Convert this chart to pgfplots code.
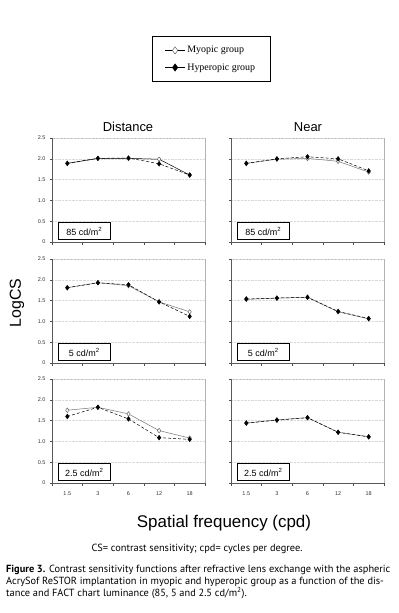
\documentclass[border=0pt]{standalone}
\usepackage{pgfplots}
\pgfplotsset{compat=1.18}
\usepackage{fontspec}
\setmainfont{Liberation Sans}
\newfontfamily\serifleg{Liberation Serif}
\newfontfamily\capfont{PT Sans}
\pgfplotsset{
  panel/.style={
    scale only axis, width=153bp, height=104bp,
    anchor=north west,
    xmin=-0.5, xmax=4.5, ymin=0, ymax=2.5,
    ytick={0,0.5,1,1.5,2,2.5},
    yticklabels={0,0.5,1.0,1.5,2.0,2.5},
    xtick={0,1,2,3,4},
    xticklabels={},
    minor xtick={-0.5,0.5,1.5,2.5,3.5,4.5},
    major x tick style={draw=none},
    minor x tick style={draw=black!70, line width=0.5pt},
    major y tick style={draw=black!70, line width=0.5pt},
    tick align=outside,
    major tick length=2bp, minor tick length=2.5bp,
    axis x line*=bottom, axis y line*=left,
    axis line style={black!65, line width=0.6pt},
    axis background/.style={draw=black!30, line width=0.6pt},
    ymajorgrids, grid style={black!15, densely dotted, line width=0.4pt},
    tick label style={font=\fontsize{5.5}{6}\selectfont, text=black!80},
    yticklabel style={xshift=-1bp},
    clip=false,
  },
  myo/.style={black!55, line width=0.5pt, mark=diamond*, mark options={solid, fill=white, draw=black!70, line width=0.4pt}, mark size=2.3bp},
  hyp/.style={black, densely dashed, line width=0.5pt, mark=diamond*, mark options={solid, fill=black, draw=black}, mark size=2.3bp},
}
\newcommand{\lumbox}[1]{\node[draw=black, line width=0.7pt, fill=white, anchor=south west, minimum width=52bp, minimum height=17bp, inner sep=1bp, font=\fontsize{9}{10}\selectfont] at ([xshift=6bp,yshift=2bp]rel axis cs:0,0) {#1};}
\begin{document}
\begin{tikzpicture}
\path[use as bounding box] (0,0) rectangle (399bp,-613bp);

% ---- top left: Distance 85
\begin{axis}[panel, at={(52bp,-138bp)},
  legend style={at={(1.039,1.76)}, anchor=center, draw=black, line width=0.6pt,
    font=\serifleg\fontsize{10}{11}\selectfont, inner xsep=13bp, inner ysep=8bp, row sep=5bp, cells={anchor=west}},
  legend image code/.code={\draw[mark repeat=2,mark phase=2,#1] plot coordinates {(0bp,0bp) (10bp,0bp) (20bp,0bp)};},
]
\addplot[myo, solid, black, legend image post style={mark size=3.6bp, solid}] coordinates {(0,1.89) (1,2.01) (2,2.01) (3,1.99) (4,1.61)};
\addlegendentry{Myopic group}
\addplot[hyp, legend image post style={mark size=3.6bp, solid}] coordinates {(0,1.89) (1,2.01) (2,2.02) (3,1.88) (4,1.61)};
\addlegendentry{Hyperopic group}
\lumbox{85 cd/m\textsuperscript{2}}
\end{axis}

% ---- top right: Near 85
\begin{axis}[panel, at={(231bp,-138bp)}, yticklabels={}]
\addplot[myo] coordinates {(0,1.89) (1,1.99) (2,2.01) (3,1.94) (4,1.68)};
\addplot[hyp] coordinates {(0,1.89) (1,2.00) (2,2.05) (3,2.00) (4,1.71)};
\lumbox{85 cd/m\textsuperscript{2}}
\end{axis}

% ---- middle left: Distance 5
\begin{axis}[panel, at={(52bp,-259bp)}]
\addplot[myo] coordinates {(0,1.81) (1,1.93) (2,1.86) (3,1.47) (4,1.23)};
\addplot[hyp] coordinates {(0,1.81) (1,1.93) (2,1.88) (3,1.47) (4,1.12)};
\lumbox{5 cd/m\textsuperscript{2}}
\end{axis}

% ---- middle right: Near 5
\begin{axis}[panel, at={(231bp,-259bp)}, yticklabels={}]
\addplot[myo] coordinates {(0,1.53) (1,1.56) (2,1.58) (3,1.23) (4,1.06)};
\addplot[hyp] coordinates {(0,1.54) (1,1.56) (2,1.58) (3,1.24) (4,1.07)};
\lumbox{5 cd/m\textsuperscript{2}}
\end{axis}

% ---- bottom left: Distance 2.5
\begin{axis}[panel, at={(52bp,-379bp)}, xticklabels={1.5,3,6,12,18}, xticklabel style={yshift=-3bp}]
\addplot[myo] coordinates {(0,1.75) (1,1.82) (2,1.66) (3,1.26) (4,1.08)};
\addplot[hyp] coordinates {(0,1.60) (1,1.82) (2,1.54) (3,1.09) (4,1.05)};
\lumbox{2.5 cd/m\textsuperscript{2}}
\end{axis}

% ---- bottom right: Near 2.5
\begin{axis}[panel, at={(231bp,-379bp)}, yticklabels={}, xticklabels={1.5,3,6,12,18}, xticklabel style={yshift=-3bp}]
\addplot[myo] coordinates {(0,1.44) (1,1.52) (2,1.57) (3,1.22) (4,1.11)};
\addplot[hyp] coordinates {(0,1.44) (1,1.51) (2,1.57) (3,1.22) (4,1.11)};
\lumbox{2.5 cd/m\textsuperscript{2}}
\end{axis}

% titles and labels
\node[font=\fontsize{13}{14}\selectfont] at (128bp,-127bp) {Distance};
\node[font=\fontsize{13}{14}\selectfont] at (308bp,-127bp) {Near};
\node[font=\fontsize{16}{17}\selectfont, rotate=90] at (17bp,-303bp) {LogCS};
\node[font=\fontsize{17}{18}\selectfont] at (224bp,-523bp) {Spatial frequency (cpd)};

% caption
\node[font=\capfont\fontsize{10.4}{12}\selectfont] at (197bp,-549bp) {CS= contrast sensitivity; cpd= cycles per degree.};
\node[anchor=north west, font=\capfont\fontsize{10.4}{12}\selectfont, align=left, inner sep=0pt] at (6bp,-565bp)
  {\textbf{Figure 3.} Contrast sensitivity functions after refractive lens exchange with the aspheric\\
   AcrySof ReSTOR implantation in myopic and hyperopic group as a function of the dis-\\
   tance and FACT chart luminance (85, 5 and 2.5 cd/m\textsuperscript{2}).};
\end{tikzpicture}
\end{document}
